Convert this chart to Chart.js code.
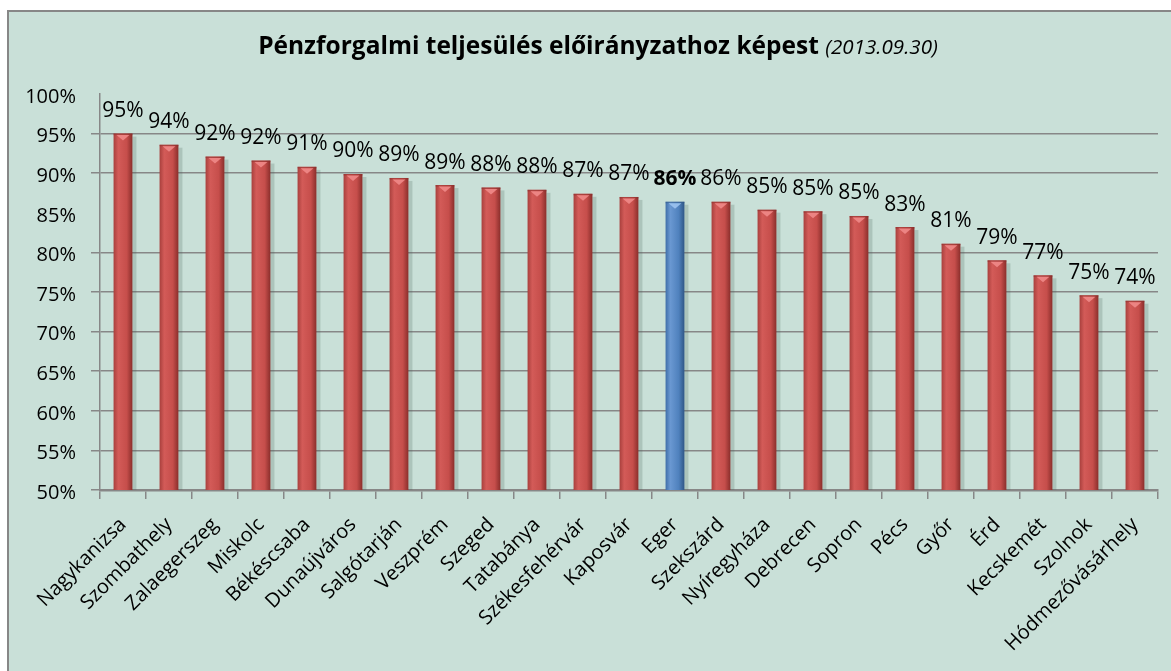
<!DOCTYPE html>
<html><head><meta charset="utf-8">
<script src="https://cdn.jsdelivr.net/npm/chart.js@4.4.1/dist/chart.umd.min.js"></script>
<style>html,body{margin:0;padding:0;background:#fff;}#wrap{width:1171px;height:671px;position:relative}</style>
</head><body><div id="wrap"><canvas id="c" width="1171" height="671"></canvas></div>
<script>
const titleMain = 'Pénzforgalmi teljesülés előirányzathoz képest';
const titleDate = '(2013.09.30)';
const categories = ['Nagykanizsa','Szombathely','Zalaegerszeg','Miskolc','Békéscsaba','Dunaújváros','Salgótarján','Veszprém','Szeged','Tatabánya','Székesfehérvár','Kaposvár','Eger','Szekszárd','Nyíregyháza','Debrecen','Sopron','Pécs','Győr','Érd','Kecskemét','Szolnok','Hódmezővásárhely'];
const values = [95.0, 93.6, 92.1, 91.6, 90.8, 89.9, 89.4, 88.5, 88.2, 87.9, 87.4, 87.0, 86.4, 86.4, 85.4, 85.2, 84.6, 83.2, 81.1, 79.0, 77.1, 74.6, 73.9];
const highlight = 'Eger';
const yMin = 50, yMax = 100, yStep = 5;
const hiddenGridValues = [85, 100];

const FONT = 'Open Sans';
const palette = {
  red:  {edge:'#A8403D', light:'#D35B58', main:'#C64E4B', dark:'#8A2E2B', cap:'#F08A88'},
  blue: {edge:'#3F6EA8', light:'#6A98D2', main:'#4F81BD', dark:'#2F5685', cap:'#9CC3F0'}
};
function pal(i){ return categories[i] === highlight ? palette.blue : palette.red; }

function barFill(ctx){
  const chart = ctx.chart, xs = chart.scales && chart.scales.x;
  const p = pal(ctx.dataIndex);
  if (!xs || !chart.chartArea || !isFinite(xs.width) || xs.width <= 0) return p.main;
  const cx = xs.getPixelForValue(ctx.dataIndex);
  const w = xs.width / categories.length * 0.41;
  const g = chart.ctx.createLinearGradient(cx - w/2, 0, cx + w/2, 0);
  g.addColorStop(0, p.edge);
  g.addColorStop(0.25, p.light);
  g.addColorStop(0.7, p.main);
  g.addColorStop(1, p.dark);
  return g;
}

const bgPlugin = {
  id:'bg',
  beforeDraw(chart){
    const c = chart.ctx;
    c.save();
    c.fillStyle = '#ffffff';
    c.fillRect(0,0,chart.width,chart.height);
    c.fillStyle = '#C9E0D8';
    c.fillRect(7,11,chart.width-7,chart.height-11);
    c.strokeStyle = '#878787';
    c.lineWidth = 2;
    c.beginPath();
    c.moveTo(8, chart.height); c.lineTo(8, 11); c.lineTo(chart.width, 11);
    c.stroke();
    // title
    c.textBaseline = 'middle';
    c.font = 'bold 24px "' + FONT + '"';
    const fs = 24 * 561 / c.measureText(titleMain).width;
    const fsi = fs * 0.84;
    c.font = 'bold ' + fs + 'px "' + FONT + '"';
    const w1 = c.measureText(titleMain + ' ').width;
    c.font = 'italic ' + fsi + 'px "' + FONT + '"';
    const w2 = c.measureText(titleDate).width;
    let x = 598 - (w1 + w2)/2;
    c.fillStyle = '#000';
    c.textAlign = 'left';
    c.font = 'bold ' + fs + 'px "' + FONT + '"';
    c.fillText(titleMain + ' ', x, 47);
    c.font = 'italic ' + fsi + 'px "' + FONT + '"';
    c.fillText(titleDate, x + w1, 48);
    c.restore();
  }
};

const barDeco = {
  id:'barDeco',
  beforeDatasetsDraw(chart){
    const c = chart.ctx, meta = chart.getDatasetMeta(0);
    const bottom = chart.chartArea.bottom;
    c.save();
    c.fillStyle = 'rgba(70,95,88,0.22)';
    meta.data.forEach(b => {
      c.fillRect(b.x + b.width/2, b.y + 3, 4, Math.min(b.base, bottom) - b.y - 3);
    });
    c.restore();
  },
  afterDatasetsDraw(chart){
    const c = chart.ctx, meta = chart.getDatasetMeta(0);
    c.save();
    meta.data.forEach((b, i) => {
      const p = pal(i);
      const l = b.x - b.width/2, r = b.x + b.width/2;
      c.fillStyle = p.dark;
      c.globalAlpha = 0.5;
      c.fillRect(l, b.y, b.width, 1.5);
      c.globalAlpha = 0.9;
      c.fillStyle = p.cap;
      c.beginPath();
      c.moveTo(l + 3, b.y + 1.5);
      c.lineTo(r - 3, b.y + 1.5);
      c.lineTo(b.x, b.y + 7);
      c.closePath();
      c.fill();
      c.globalAlpha = 1;
      // value label
      c.fillStyle = '#000';
      c.textAlign = 'center';
      c.textBaseline = 'alphabetic';
      c.font = (categories[i] === highlight ? 'bold ' : '') + '21px "' + FONT + '"';
      c.fillText(Math.round(values[i]) + '%', b.x, b.y - 16.5);
    });
    c.restore();
  }
};

new Chart(document.getElementById('c'), {
  type:'bar',
  data:{
    labels: categories,
    datasets:[{
      data: values,
      backgroundColor: barFill,
      borderWidth: 0,
      barPercentage: 0.41,
      categoryPercentage: 1.0
    }]
  },
  options:{
    responsive:false,
    animation:false,
    layout:{padding:{top:94, right:13, left:0, bottom:0}},
    plugins:{legend:{display:false}, tooltip:{enabled:false}, title:{display:false}},
    scales:{
      x:{
        offset:true,
        grid:{display:true, drawOnChartArea:false, drawTicks:true, tickLength:9, color:'#878787', offset:true, lineWidth:1.5},
        border:{display:true, color:'#878787', width:2.5},
        ticks:{minRotation:45, maxRotation:45, autoSkip:false, color:'#000', font:{family:FONT, size:20}, padding:14},
        afterFit(s){ s.height = 181; }
      },
      y:{
        min:yMin, max:yMax,
        ticks:{stepSize:yStep, callback:v => v + '%', color:'#000', font:{family:FONT, size:20}, padding:15, labelOffset:3},
        grid:{
          color: ctx => (ctx.tick && hiddenGridValues.includes(ctx.tick.value)) ? 'rgba(0,0,0,0)' : '#878787',
          tickLength:9, lineWidth:1.5
        },
        border:{display:true, color:'#878787', width:1.5},
        afterFit(s){ s.width = 100; }
      }
    }
  },
  plugins:[bgPlugin, barDeco]
});
</script>
</body></html>
